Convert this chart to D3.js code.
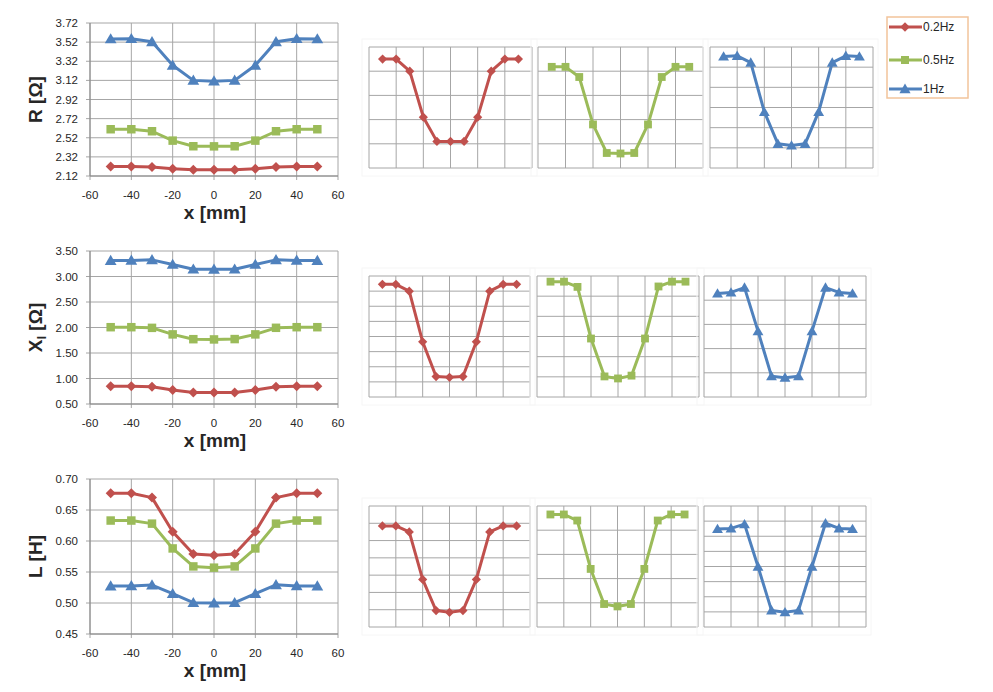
<!DOCTYPE html>
<html>
<head>
<meta charset="utf-8">
<script src="https://cdn.jsdelivr.net/npm/d3@7"></script>
<style>
    body { margin: 0; background: #fff; }
    text { font-family: "Liberation Sans", Arial, sans-serif; fill: #262626; }
</style>
</head>
<body>
<svg id="chart" width="993" height="692"></svg>
<script>
// Data.
const positions = [-50, -40, -30, -20, -10, 0, 10, 20, 30, 40, 50];
const seriesNames = ['0.2Hz', '0.5Hz', '1Hz'];

const r02 = [2.220, 2.220, 2.215, 2.196, 2.186, 2.186, 2.186, 2.196, 2.215, 2.220, 2.220];
const r05 = [2.609, 2.609, 2.588, 2.490, 2.431, 2.430, 2.431, 2.490, 2.588, 2.609, 2.609];
const r1 = [3.553, 3.556, 3.523, 3.278, 3.120, 3.112, 3.120, 3.278, 3.523, 3.556, 3.553];

const xl02 = [0.849, 0.849, 0.840, 0.773, 0.727, 0.726, 0.727, 0.773, 0.840, 0.849, 0.849];
const xl05 = [2.006, 2.006, 1.993, 1.865, 1.771, 1.766, 1.773, 1.865, 1.994, 2.006, 2.006];
const xl1 = [3.314, 3.316, 3.326, 3.236, 3.143, 3.140, 3.143, 3.236, 3.326, 3.316, 3.314];

const l02 = [0.677, 0.677, 0.670, 0.615, 0.579, 0.577, 0.579, 0.615, 0.670, 0.677, 0.677];
const l05 = [0.633, 0.633, 0.628, 0.588, 0.559, 0.557, 0.559, 0.588, 0.628, 0.633, 0.633];
const l1 = [0.5274, 0.5276, 0.5290, 0.5150, 0.5005, 0.4999, 0.5005, 0.5150, 0.5293, 0.5276, 0.5274];

// Tick labels.
const xTicks = [-60, -40, -20, 0, 20, 40, 60];
const rTicks = [2.12, 2.32, 2.52, 2.72, 2.92, 3.12, 3.32, 3.52, 3.72];
const xlTicks = [0.50, 1.00, 1.50, 2.00, 2.50, 3.00, 3.50];
const lTicks = [0.45, 0.50, 0.55, 0.60, 0.65, 0.70];

// Hidden axis ranges of the zoomed panels: [min, max, step].
const rPanelAxes = [[2.175, 2.225, 0.01], [2.40, 2.65, 0.05], [3.0, 3.6, 0.1]];
const xlPanelAxes = [[0.70, 0.86, 0.02], [1.72, 2.02, 0.05], [3.10, 3.35, 0.05]];
const lPanelAxes = [[0.56, 0.70, 0.02], [0.54, 0.64, 0.02], [0.495, 0.535, 0.005]];

// Styles.
const COLORS = ['#c0504d', '#9bbb59', '#4f81bd'];
const GRID = '#a6a6a6';
const AXIS = '#868686';

const svg = d3.select('#chart');

// Excel-like diamond (square turned 45 degrees).
const diamond = {
    draw (ctx, size) {
        const r = Math.sqrt(size) / 2;
        ctx.moveTo(0, -r);
        ctx.lineTo(r, 0);
        ctx.lineTo(0, r);
        ctx.lineTo(-r, 0);
        ctx.closePath();
    }
};
const markerTypes = [diamond, d3.symbolSquare, d3.symbolTriangle];

const marker = (i, scale) => {
    const sizes = [100, 72, 60];
    return d3.symbol().type(markerTypes[i]).size(sizes[i] * scale)();
};

const drawSeries = (g, x, y, values, i, lw, ms) => {
    const line = d3.line()
        .x((d, k) => x(positions[k]))
        .y(d => y(d));
    g.append('path')
        .datum(values)
        .attr('d', line)
        .attr('fill', 'none')
        .attr('stroke', COLORS[i])
        .attr('stroke-width', lw)
        .attr('stroke-linejoin', 'round');
    g.selectAll(null)
        .data(values)
        .enter()
        .append('path')
        .attr('d', marker(i, ms))
        .attr('transform', (d, k) => `translate(${x(positions[k])},${y(d) + (i === 2 ? 1 : 0)})`)
        .attr('fill', COLORS[i]);
};

// Main charts.
const MAIN = {left: 90, right: 338};

const drawMain = (top, bottom, yTicks, fmt, series, title) => {
    const g = svg.append('g');
    const x = d3.scaleLinear().domain([-60, 60]).range([MAIN.left, MAIN.right]);
    const y = d3.scaleLinear().domain(d3.extent(yTicks)).range([bottom, top]);

    // Grid.
    g.selectAll(null).data(yTicks).enter().append('line')
        .attr('x1', MAIN.left - 4).attr('x2', MAIN.right)
        .attr('y1', d => y(d)).attr('y2', d => y(d))
        .attr('stroke', GRID).attr('stroke-width', 1);
    g.selectAll(null).data(xTicks).enter().append('line')
        .attr('x1', d => x(d)).attr('x2', d => x(d))
        .attr('y1', top).attr('y2', bottom + 4)
        .attr('stroke', GRID).attr('stroke-width', 1);

    // Axes.
    g.append('line')
        .attr('x1', MAIN.left).attr('x2', MAIN.left)
        .attr('y1', top).attr('y2', bottom)
        .attr('stroke', AXIS);
    g.append('line')
        .attr('x1', MAIN.left).attr('x2', MAIN.right)
        .attr('y1', bottom).attr('y2', bottom)
        .attr('stroke', AXIS);

    g.selectAll(null).data(yTicks).enter().append('text')
        .attr('x', MAIN.left - 12)
        .attr('y', d => y(d) + 4)
        .attr('text-anchor', 'end')
        .style('font-size', '11.5px')
        .text(d => d3.format(fmt)(d));
    g.selectAll(null).data(xTicks).enter().append('text')
        .attr('x', d => x(d))
        .attr('y', bottom + 23)
        .attr('text-anchor', 'middle')
        .style('font-size', '11.5px')
        .text(d => d);

    g.append('text')
        .attr('x', (MAIN.left + MAIN.right) / 2 + 1)
        .attr('y', bottom + 43)
        .attr('text-anchor', 'middle')
        .style('font-size', '19px')
        .style('font-weight', 'bold')
        .text('x [mm]');

    const t = g.append('text')
        .attr('transform', `translate(42,${(top + bottom) / 2}) rotate(-90)`)
        .attr('text-anchor', 'middle')
        .style('font-size', '19px')
        .style('font-weight', 'bold');
    title(t);

    series.forEach((s, i) => drawSeries(g, x, y, s, i, 3, 1));
};

drawMain(23, 176, rTicks, '.2f', [r02, r05, r1], t => t.text('R [Ω]'));
drawMain(251, 404, xlTicks, '.2f', [xl02, xl05, xl1], t => {
    t.append('tspan').text('X');
    t.append('tspan').attr('dy', 4).style('font-size', '13px').text('l');
    t.append('tspan').attr('dy', -4).text(' [Ω]');
});
drawMain(479, 634, lTicks, '.2f', [l02, l05, l1], t => t.text('L [H]'));

// Zoomed panels, one per series, no axis labels.
const drawPanel = (x0, x1, top, bottom, axis, values, i) => {
    const g = svg.append('g');
    const x = d3.scaleLinear().domain([-60, 60]).range([x0, x1]);
    const y = d3.scaleLinear().domain([axis[0], axis[1]]).range([bottom, top]);
    const yGrid = d3.range(axis[0], axis[1] + axis[2] / 2, axis[2]);

    g.append('rect')
        .attr('x', x0 - 7).attr('y', top - 8)
        .attr('width', x1 - x0 + 12).attr('height', bottom - top + 16)
        .attr('fill', 'none')
        .attr('stroke', '#f6f6f6');
    g.selectAll(null).data(yGrid).enter().append('line')
        .attr('x1', x0).attr('x2', x1)
        .attr('y1', d => y(d)).attr('y2', d => y(d))
        .attr('stroke', GRID);
    g.selectAll(null).data(xTicks).enter().append('line')
        .attr('x1', d => x(d)).attr('x2', d => x(d))
        .attr('y1', top).attr('y2', bottom)
        .attr('stroke', GRID);

    drawSeries(g, x, y, values, i, 3, 0.85);
};

const panelRows = [
    {top: 47, bottom: 168, cols: [[369, 532], [538, 703], [710, 873]], axes: rPanelAxes, data: [r02, r05, r1]},
    {top: 276, bottom: 397, cols: [[369, 530], [537, 699], [704, 866]], axes: xlPanelAxes, data: [xl02, xl05, xl1]},
    {top: 506, bottom: 627, cols: [[369, 530], [537, 698], [704, 866]], axes: lPanelAxes, data: [l02, l05, l1]}
];

panelRows.forEach(row => {
    row.cols.forEach((c, i) => drawPanel(c[0], c[1], row.top, row.bottom, row.axes[i], row.data[i], i));
});

// Legend.
const legend = svg.append('g');
legend.append('rect')
    .attr('x', 887).attr('y', 17)
    .attr('width', 81).attr('height', 81)
    .attr('fill', '#fff')
    .attr('stroke', '#f2c49b')
    .attr('stroke-width', 1.5);

const legendY = [27, 60, 89];
seriesNames.forEach((name, i) => {
    legend.append('line')
        .attr('x1', 889).attr('x2', 922)
        .attr('y1', legendY[i]).attr('y2', legendY[i])
        .attr('stroke', COLORS[i])
        .attr('stroke-width', 3);
    legend.append('path')
        .attr('d', marker(i, 0.9))
        .attr('transform', `translate(905,${legendY[i] + (i === 2 ? 1 : 0)})`)
        .attr('fill', COLORS[i]);
    legend.append('text')
        .attr('x', 923)
        .attr('y', legendY[i] + 4)
        .style('font-size', '12px')
        .text(name);
});
</script>
</body>
</html>
